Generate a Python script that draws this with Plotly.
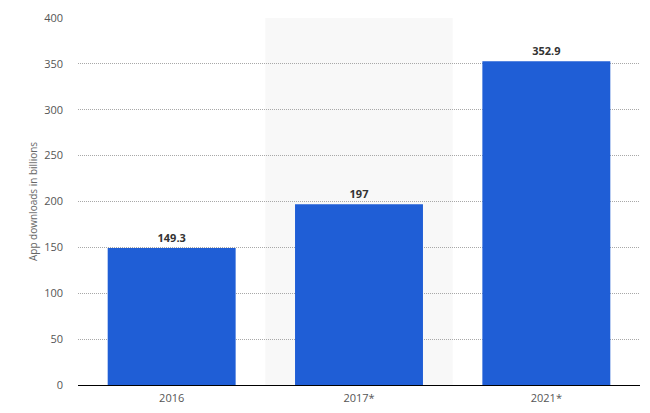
import plotly.graph_objects as go

categories = ["2016", "2017*", "2021*"]
values = [149.3, 197, 352.9]
value_labels = ["149.3", "197", "352.9"]
y_ticks = [0, 50, 100, 150, 200, 250, 300, 350, 400]

fig = go.Figure()
fig.add_trace(go.Bar(
    x=categories, y=values, text=value_labels, textposition="outside",
    textfont=dict(family="Open Sans, DejaVu Sans", size=11, color="#333333", weight="bold"),
    marker=dict(color="#1f5ed6", line=dict(width=0)),
    cliponaxis=False,
))
fig.add_shape(type="rect", xref="x", yref="paper", x0=0.5, x1=1.5, y0=0, y1=1,
              fillcolor="#f8f8f8", line=dict(width=0), layer="below")
fig.update_layout(
    width=642, height=405,
    margin=dict(l=70, r=10, t=10, b=28, autoexpand=False),
    paper_bgcolor="white", plot_bgcolor="white",
    bargap=0.317,
    showlegend=False,
    font=dict(family="Open Sans, DejaVu Sans", size=11, color="#666666"),
    xaxis=dict(showgrid=False, showline=True, linecolor="#000000", linewidth=1,
               ticks="", automargin=False, ticklabelstandoff=3,
               tickfont=dict(size=11, color="#555555")),
    yaxis=dict(range=[0, 400], tickvals=y_ticks, showgrid=True,
               gridcolor="#a8a8a8", griddash="1px,1px", gridwidth=1,
               zeroline=False, ticks="", ticklen=0, automargin=False,
               ticklabelstandoff=14,
               tickfont=dict(size=11, color="#555555"),
               title=dict(text="App downloads in billions", standoff=4,
                          font=dict(size=10, color="#666666"))),
)
fig.write_html("out.html")
